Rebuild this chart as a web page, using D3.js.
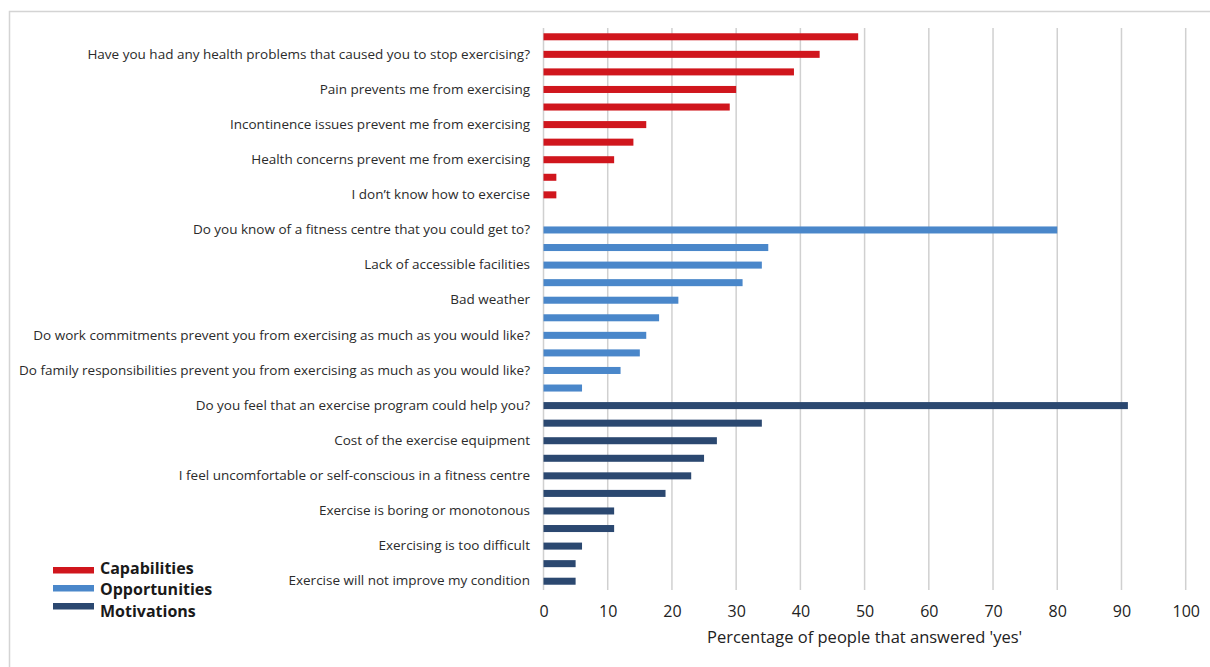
<!DOCTYPE html>
<html>
<head>
<meta charset="utf-8">
<script src="https://cdn.jsdelivr.net/npm/d3@7"></script>
<style>
  body { margin: 0; background: #fff; }
  text { font-family: "Open Sans", sans-serif; }
</style>
</head>
<body>
<svg id="chart" width="1210" height="667"></svg>
<script>
// question labels (blank ones are not shown on the axis in the original)
var capLabels = ["", "Have you had any health problems that caused you to stop exercising?", "",
  "Pain prevents me from exercising", "", "Incontinence issues prevent me from exercising", "",
  "Health concerns prevent me from exercising", "", "I don\u2019t know how to exercise"];
var capValues = [49, 43, 39, 30, 29, 16, 14, 11, 2, 2];

var oppLabels = ["Do you know of a fitness centre that you could get to?", "", "Lack of accessible facilities", "",
  "Bad weather", "", "Do work commitments prevent you from exercising as much as you would like?", "",
  "Do family responsibilities prevent you from exercising as much as you would like?", ""];
var oppValues = [80, 35, 34, 31, 21, 18, 16, 15, 12, 6];

var motLabels = ["Do you feel that an exercise program could help you?", "", "Cost of the exercise equipment", "",
  "I feel uncomfortable or self-conscious in a fitness centre", "", "Exercise is boring or monotonous", "",
  "Exercising is too difficult", "", "Exercise will not improve my condition"];
var motValues = [91, 34, 27, 25, 23, 19, 11, 11, 6, 5, 5];

var groups = ["Capabilities", "Opportunities", "Motivations"];
var groupColors = ["#d0161d", "#4a87ca", "#2b4870"];
var xTicks = [0, 10, 20, 30, 40, 50, 60, 70, 80, 90, 100];

// build one list of rows, with an empty row after the capabilities block
var rows = [];
capLabels.forEach(function(l, i) { rows.push({label: l, value: capValues[i], group: 0}); });
rows.push({label: "", value: null, group: -1});
oppLabels.forEach(function(l, i) { rows.push({label: l, value: oppValues[i], group: 1}); });
motLabels.forEach(function(l, i) { rows.push({label: l, value: motValues[i], group: 2}); });

var svg = d3.select("#chart");

// outer frame
svg.append("rect")
  .attr("x", 9.5).attr("y", 11.5)
  .attr("width", 1230).attr("height", 700)
  .attr("fill", "none")
  .attr("stroke", "#d4d4d4")
  .attr("stroke-width", 1.5);

var x = d3.scaleLinear().domain([0, 100]).range([543.5, 1185.7]);
var y = d3.scaleBand()
  .domain(d3.range(rows.length))
  .range([28, 590])
  .paddingInner(0.6)
  .paddingOuter(0.3);

// vertical gridlines
svg.append("g")
  .selectAll("line")
  .data(xTicks)
  .enter()
  .append("line")
  .attr("x1", function(d) { return x(d); })
  .attr("x2", function(d) { return x(d); })
  .attr("y1", 28)
  .attr("y2", 590)
  .attr("stroke", "#d0d0d0")
  .attr("stroke-width", 1.5);

// bars
svg.append("g")
  .selectAll("rect")
  .data(rows.filter(function(d) { return d.value !== null; }))
  .enter()
  .append("rect")
  .attr("x", x(0))
  .attr("y", function(d) { return y(rows.indexOf(d)); })
  .attr("width", function(d) { return x(d.value) - x(0); })
  .attr("height", y.bandwidth())
  .attr("fill", function(d) { return groupColors[d.group]; });

// category labels
svg.append("g")
  .selectAll("text")
  .data(rows)
  .enter()
  .append("text")
  .attr("x", 530)
  .attr("y", function(d, i) { return y(i) + y.bandwidth() / 2 - 0.5; })
  .attr("dy", "0.35em")
  .attr("text-anchor", "end")
  .attr("fill", "#2b2b2b")
  .style("font-size", "13.5px")
  .text(function(d) { return d.label; });

// x axis tick labels
var xAxis = d3.axisBottom(x).tickValues(xTicks).tickSize(0).tickPadding(14);
var xg = svg.append("g")
  .attr("transform", "translate(0,592)")
  .call(xAxis);
xg.select(".domain").remove();
xg.selectAll("text")
  .attr("fill", "#222")
  .style("font-family", "'Liberation Sans Narrow', 'Open Sans', sans-serif")
  .style("font-size", "16px");

// axis title
svg.append("text")
  .attr("x", x(50))
  .attr("y", 643)
  .attr("text-anchor", "middle")
  .attr("fill", "#222")
  .style("font-size", "16.5px")
  .text("Percentage of people that answered 'yes'");

// legend (swatches sit a bit tighter than the text lines)
var legend = svg.append("g");
legend.selectAll("rect")
  .data(groups)
  .enter()
  .append("rect")
  .attr("x", 53)
  .attr("y", function(d, i) { return 567 + i * 18; })
  .attr("width", 41).attr("height", 6.5)
  .attr("fill", function(d, i) { return groupColors[i]; });
legend.selectAll("text")
  .data(groups)
  .enter()
  .append("text")
  .attr("x", 100)
  .attr("y", function(d, i) { return 568 + i * 21.8; })
  .attr("dy", "0.35em")
  .attr("fill", "#1a1a1a")
  .style("font-size", "16px")
  .style("font-weight", "bold")
  .text(function(d) { return d; });
</script>
</body>
</html>
